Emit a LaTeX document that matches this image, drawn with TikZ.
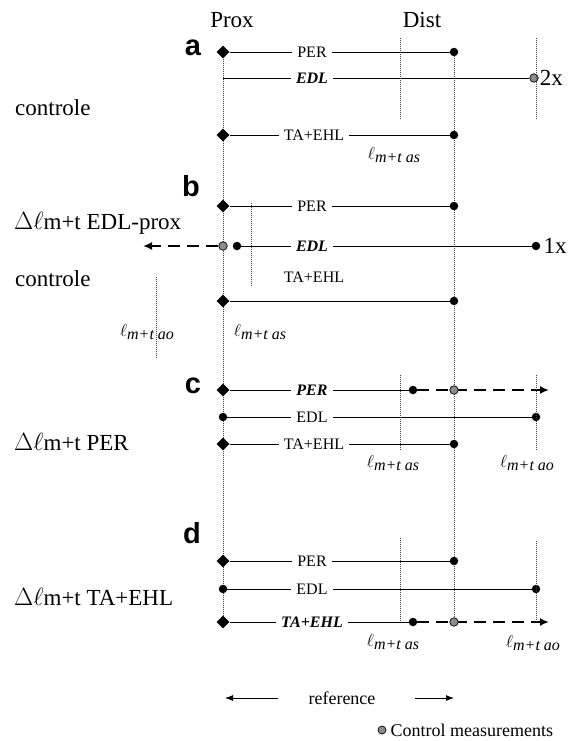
\documentclass[tikz,border=0pt]{standalone}
\usepackage{fontspec}
\setmainfont{Liberation Serif}
\newfontfamily\panelfont{Liberation Sans}
\usepackage{tikz}
\usetikzlibrary{arrows.meta,shapes.geometric,backgrounds}

\newcommand{\lmtas}{$\ell$\raisebox{-3pt}{\textit{m+t as}}}
\newcommand{\lmtao}{$\ell$\raisebox{-3pt}{\textit{m+t ao}}}

\begin{document}
\begin{tikzpicture}[
  x=1pt, y=-1pt,
  proxmark/.style={diamond, fill=black, inner sep=0pt, minimum size=13pt},
  distdot/.style={circle, fill=black, inner sep=0pt, minimum size=8.5pt},
  ctrldot/.style={circle, draw=black, fill=black!45, line width=0.7pt, inner sep=0pt, minimum size=8.5pt},
  seg/.style={line width=0.9pt},
  growth/.style={line width=2pt, dash pattern=on 12pt off 7pt, -{Latex[length=9pt,width=8pt]}},
  guide/.style={line width=0.5pt, dash pattern=on 1pt off 1pt, black!75},
  lbl/.style={fill=white, inner sep=5pt, font=\fontsize{16}{16}\selectfont},
  lblem/.style={lbl, font=\fontsize{16}{16}\selectfont\bfseries\itshape},
  bigtxt/.style={inner sep=1pt, font=\fontsize{23}{23}\selectfont},
  panel/.style={inner sep=0pt, font=\fontsize{29}{29}\panelfont\bfseries},
  lentxt/.style={inner sep=1pt, font=\fontsize{16}{16}\selectfont},
  smalltxt/.style={inner sep=1pt, font=\fontsize{18}{18}\selectfont},
  refarrow/.style={line width=0.9pt, -{Latex[length=8pt,width=6pt]}}
]
\useasboundingbox (0,0) rectangle (576,741);

% column heads
\node[bigtxt] (prox) at (232,20) {Prox};
\node[bigtxt] (dist) at (422,20) {Dist};

% a: controle
\node[panel] (pa) at (193,48) {a};
\node[bigtxt, anchor=west] (actl) at (14,108) {controle};
\node[proxmark] (aP) at (223,52) {};
\node[distdot] (aPd) at (454,52) {};
\coordinate (aE) at (223,78);
\node[ctrldot] (aEc) at (534,78) {};
\node[bigtxt, anchor=west] (aEx) at (aEc.east) {2x};
\node[proxmark] (aT) at (223,135) {};
\node[distdot] (aTd) at (454,135) {};
\draw[seg] (aP) -- (aPd);
\draw[seg] (aE) -- (aEc);
\draw[seg] (aT) -- (aTd);
\node[lbl] at (312,52) {PER};
\node[lblem] at (312,78) {EDL};
\node[lbl] at (314,135) {TA+EHL};
\node[lentxt] (aas) at (394,155) {\lmtas};
\draw[guide] (400,38) -- (400,120);
\draw[guide] (536,38) -- (536,120);

% b: EDL-prox
\node[panel] (pb) at (191,186) {b};
\node[bigtxt, anchor=west] (bdel) at (13,223) {$\Delta\ell$m+t EDL-prox};
\node[bigtxt, anchor=west] (bctl) at (14,279) {controle};
\node[proxmark] (bP) at (223,206) {};
\node[distdot] (bPd) at (454,206) {};
\node[ctrldot] (bEc) at (223,246) {};
\node[distdot] (bEm) at (237,246) {};
\node[distdot] (bEd) at (536,246) {};
\coordinate (bEend) at (143,246);
\node[bigtxt, anchor=west] (bEx) at ([xshift=2pt]bEd.east) {1x};
\node[proxmark] (bT) at (223,301) {};
\node[distdot] (bTd) at (454,301) {};
\draw[seg] (bP) -- (bPd);
\draw[growth] (bEc) -- (bEend);
\draw[seg] (bEm) -- (bEd);
\draw[seg] (bT) -- (bTd);
\node[lbl] at (312,206) {PER};
\node[lblem] at (312,246) {EDL};
\node[lbl] at (314,277) {TA+EHL};
\node[lentxt] (bas) at (260,332) {\lmtas};
\node[lentxt] (bao) at (147,332) {\lmtao};
\draw[guide] (251,203) -- (251,287);
\draw[guide] (156,277) -- (156,358);

% c: PER
\node[panel] (pc) at (193,386) {c};
\node[bigtxt, anchor=west] (cdel) at (13,442) {$\Delta\ell$m+t PER};
\node[proxmark] (cP) at (223,390) {};
\node[distdot] (cPm) at (413,390) {};
\coordinate (cPend) at (549,390);
\node[distdot] (cE) at (223,417) {};
\node[distdot] (cEd) at (536,417) {};
\node[proxmark] (cT) at (223,444) {};
\node[distdot] (cTd) at (454,444) {};
\draw[seg] (cP) -- (cPm);
\draw[growth] (cPm) -- (cPend);
\node[ctrldot] (cPc) at (454,390) {};
\draw[seg] (cE) -- (cEd);
\draw[seg] (cT) -- (cTd);
\node[lblem] at (312,390) {PER};
\node[lbl] at (312,417) {EDL};
\node[lbl] at (314,444) {TA+EHL};
\node[lentxt] (cas) at (393,463) {\lmtas};
\node[lentxt] (cao) at (527,463) {\lmtao};
\draw[guide] (400,375) -- (400,450);
\draw[guide] (536,375) -- (536,450);

% d: TA+EHL
\node[panel] (pd) at (192,533) {d};
\node[bigtxt, anchor=west] (ddel) at (13,597) {$\Delta\ell$m+t TA+EHL};
\node[proxmark] (dP) at (223,561) {};
\node[distdot] (dPd) at (454,561) {};
\node[distdot] (dE) at (223,589) {};
\node[distdot] (dEd) at (536,589) {};
\node[proxmark] (dT) at (223,622) {};
\node[distdot] (dTm) at (413,622) {};
\coordinate (dTend) at (549,622);
\draw[seg] (dP) -- (dPd);
\draw[seg] (dE) -- (dEd);
\draw[seg] (dT) -- (dTm);
\draw[growth] (dTm) -- (dTend);
\node[ctrldot] (dTc) at (454,622) {};
\node[lbl] at (312,561) {PER};
\node[lbl] at (312,589) {EDL};
\node[lblem] at (312,622) {TA+EHL};
\node[lentxt] (das) at (393,642) {\lmtas};
\node[lentxt] (dao) at (533,643) {\lmtao};
\draw[guide] (400,538) -- (400,622);
\draw[guide] (536,541) -- (536,622);

% long guides
\begin{scope}[on background layer]
\draw[guide] (aP) -- (dT);
\draw[guide] (aPd) -- (dTc);
\end{scope}

% reference and legend
\node[smalltxt] (ref) at (342,698) {reference};
\coordinate (refLa) at (278,698);
\coordinate (refLb) at (225,698);
\coordinate (refRa) at (415,698);
\coordinate (refRb) at (454,698);
\draw[refarrow] (refLa) -- (refLb);
\draw[refarrow] (refRa) -- (refRb);
\node[ctrldot, minimum size=8pt] (leg) at (382,730) {};
\node[smalltxt, anchor=west] (legtxt) at ([xshift=3pt]leg.east) {Control measurements};
\end{tikzpicture}
\end{document}
